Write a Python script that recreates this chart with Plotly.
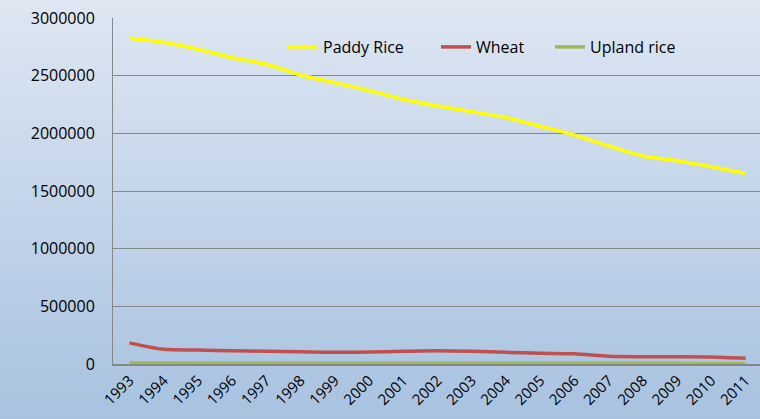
import plotly.graph_objects as go

years = ["1993", "1994", "1995", "1996", "1997", "1998", "1999", "2000", "2001", "2002",
         "2003", "2004", "2005", "2006", "2007", "2008", "2009", "2010", "2011"]
paddy_rice = [2824000, 2789000, 2729000, 2656000, 2599000, 2506000, 2439000, 2370000, 2295000, 2237000,
              2188000, 2136000, 2062000, 1985000, 1890000, 1803000, 1763000, 1711000, 1653000]
wheat = [183000, 127000, 121000, 115000, 110000, 107000, 101000, 104000, 110000, 115000,
         110000, 101000, 93000, 89000, 67000, 63000, 63000, 61000, 49000]
upland_rice = [8000, 8000, 7500, 7500, 7000, 7000, 7000, 6500, 6500, 6500,
               6000, 6000, 6000, 6000, 5500, 5500, 5500, 5000, 5000]
y_ticks = [0, 500000, 1000000, 1500000, 2000000, 2500000, 3000000]

W, H = 760, 419
ML, MR, MT, MB = 113, 0, 18, 55

idx = list(range(len(years)))
fig = go.Figure()
fig.add_trace(go.Scatter(x=idx, y=paddy_rice, name="Paddy Rice", mode="lines", legendwidth=108,
                         line=dict(color="#ffff00", width=3.5, shape="spline", smoothing=0.8)))
fig.add_trace(go.Scatter(x=idx, y=wheat, name="Wheat", mode="lines", legendwidth=69,
                         line=dict(color="#c0504d", width=3.5, shape="spline", smoothing=0.8)))
fig.add_trace(go.Scatter(x=idx, y=upland_rice, name="Upland rice", mode="lines",
                         line=dict(color="#9bbb59", width=3.5, shape="spline", smoothing=0.8)))

# vertical gradient background
pw = W - ML - MR
ph = H - MT - MB
n = 140
top = (222, 231, 242)
bot = (168, 194, 224)
shapes = []
for i in range(n):
    t = i / (n - 1)
    c = tuple(round(top[k] + (bot[k] - top[k]) * t) for k in range(3))
    y0px = H * i / n
    y1px = H * (i + 1) / n + 0.8
    shapes.append(dict(type="rect", xref="paper", yref="paper",
                       x0=-ML / pw, x1=1 + (MR + 5) / pw,
                       y0=(H - MB - y1px) / ph, y1=(H - MB - y0px) / ph,
                       fillcolor="rgb(%d,%d,%d)" % c, line=dict(width=0), layer="below"))

font = "Open Sans, Noto Sans, sans-serif"
fig.update_layout(
    width=W, height=H,
    margin=dict(l=ML, r=MR, t=MT, b=MB, autoexpand=False),
    paper_bgcolor="#c4d4e8",
    plot_bgcolor="rgba(0,0,0,0)",
    shapes=shapes,
    font=dict(family=font, size=16, color="#000000"),
    showlegend=True,
    legend=dict(orientation="h", x=(283 - ML) / pw, y=1 - (47 - MT) / ph,
                xanchor="left", yanchor="middle", bgcolor="rgba(0,0,0,0)",
                font=dict(family=font, size=16, color="#000000"),
                itemwidth=30, tracegroupgap=0),
    xaxis=dict(range=[-0.48, 18.42], tickmode="array", tickvals=idx, ticktext=years,
               tickangle=-45, showgrid=False, zeroline=False, automargin=False,
               showline=True, linecolor="#878787", linewidth=2,
               ticks="", tickfont=dict(family=font, size=15, color="#000000")),
    yaxis=dict(range=[0, 3000000], tickmode="array", tickvals=y_ticks,
               ticktext=[str(v) for v in y_ticks], automargin=False,
               showgrid=True, gridcolor="#878787", gridwidth=1,
               zeroline=False, showline=True, linecolor="#878787", linewidth=1,
               ticks="", ticklabelstandoff=14,
               tickfont=dict(family=font, size=16, color="#000000")),
)
fig.write_html("out.html", config={"displayModeBar": False},
               post_script="document.body.style.margin='0';document.body.style.overflow='hidden';")
